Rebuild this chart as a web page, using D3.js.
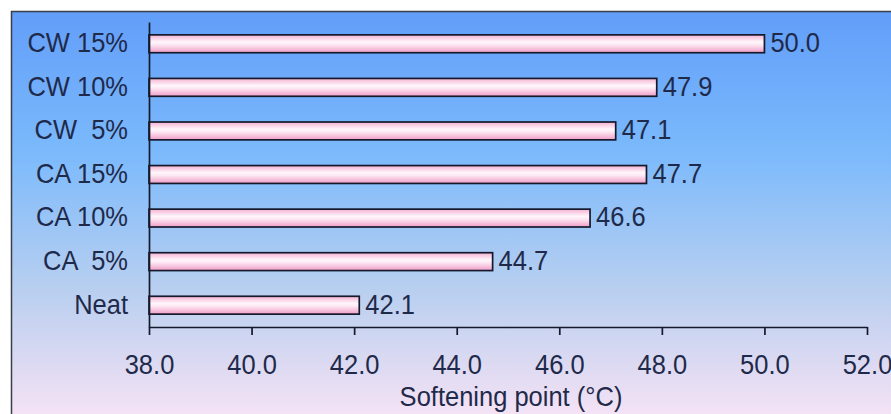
<!DOCTYPE html>
<html>
<head>
<meta charset="utf-8">
<script src="https://cdn.jsdelivr.net/npm/d3@7"></script>
<style>
  html, body { margin: 0; padding: 0; background: #ffffff; }
  svg { display: block; }
  text { font-family: "Liberation Sans", Arial, sans-serif; fill: #1f2a4a; }
</style>
</head>
<body>
<svg id="chart" width="891" height="414"></svg>
<script>
// Softening point of neat binder and modified blends
const categories = ["CW 15%", "CW 10%", "CW  5%", "CA 15%", "CA 10%", "CA  5%", "Neat"];
const values = [50.0, 47.9, 47.1, 47.7, 46.6, 44.7, 42.1];
const tickValues = [38, 40, 42, 44, 46, 48, 50, 52];
const axisTitle = "Softening point (°C)";

const FONT = 25.5;      // label size
const STRETCH = 1.1;    // slightly tall glyphs

const svg = d3.select("#chart");
const defs = svg.append("defs");

// Plot-area backdrop: blue at top fading to pale pink at the bottom
const bg = defs.append("linearGradient").attr("id", "bgGrad")
  .attr("x1", 0).attr("y1", 0).attr("x2", 0).attr("y2", 1);
[[0, "#629ef9"], [0.34, "#7cbafc"], [0.66, "#b8cff0"], [0.83, "#dad9f2"], [1, "#fde6f6"]]
  .forEach(([o, c]) => bg.append("stop").attr("offset", o).attr("stop-color", c));

// Cylinder-like shading for the bars
const barGrad = defs.append("linearGradient").attr("id", "barGrad")
  .attr("x1", 0).attr("y1", 0).attr("x2", 0).attr("y2", 1);
[[0, "#f4b0d2"], [0.4, "#fff6fb"], [0.55, "#fde8f3"], [1, "#f09cc6"]]
  .forEach(([o, c]) => barGrad.append("stop").attr("offset", o).attr("stop-color", c));

// Frame
svg.append("rect")
  .attr("x", 11.5).attr("y", 11.5).attr("width", 900).attr("height", 420)
  .attr("fill", "url(#bgGrad)")
  .attr("stroke", "#3a3f4a").attr("stroke-width", 1.5);

const x = d3.scaleLinear().domain([38, 52]).range([149, 867]);
const y = d3.scaleBand().domain(categories).range([22, 327]).paddingInner(0.59).paddingOuter(0.295);

// Bars
svg.append("g").selectAll("rect")
  .data(categories)
  .join("rect")
  .attr("x", x(38))
  .attr("y", d => y(d))
  .attr("width", (d, i) => x(values[i]) - x(38))
  .attr("height", y.bandwidth())
  .attr("fill", "url(#barGrad)")
  .attr("stroke", "#141a2c")
  .attr("stroke-width", 1.7);

// Value labels
svg.append("g").selectAll("text")
  .data(categories)
  .join("text")
  .attr("transform", (d, i) =>
    `translate(${x(values[i]) + 6},${y(d) + y.bandwidth() / 2 - 1}) scale(1,${STRETCH})`)
  .attr("dominant-baseline", "central")
  .attr("font-size", FONT)
  .text((d, i) => values[i].toFixed(1));

// X axis
const xAxis = svg.append("g")
  .attr("transform", "translate(0,327)")
  .call(d3.axisBottom(x).tickValues(tickValues).tickFormat(d3.format(".1f"))
    .tickSizeInner(8).tickSizeOuter(0));
xAxis.select(".domain").attr("stroke", "#141a2c").attr("stroke-width", 1.7);
xAxis.selectAll(".tick line").attr("stroke", "#141a2c").attr("stroke-width", 1.7);
xAxis.selectAll(".tick text")
  .attr("y", null).attr("dy", null)
  .attr("transform", `translate(0,38) scale(1,${STRETCH})`)
  .attr("dominant-baseline", "central")
  .attr("font-size", FONT).attr("fill", "#1f2a4a")
  .style("font-family", "'Liberation Sans', Arial, sans-serif");

// Y axis
const yAxis = svg.append("g")
  .attr("transform", "translate(149,0)")
  .call(d3.axisLeft(y).tickSize(0));
yAxis.select(".domain").attr("stroke", "#141a2c").attr("stroke-width", 1.7);
yAxis.selectAll(".tick text")
  .attr("x", null).attr("dy", null)
  .attr("transform", `translate(-21,-1) scale(1,${STRETCH})`)
  .attr("dominant-baseline", "central")
  .attr("font-size", FONT).attr("fill", "#1f2a4a")
  .style("white-space", "pre")
  .style("font-family", "'Liberation Sans', Arial, sans-serif");

// Axis title
svg.append("text")
  .attr("transform", `translate(511,397) scale(1,${STRETCH})`)
  .attr("text-anchor", "middle")
  .attr("dominant-baseline", "central")
  .attr("font-size", FONT)
  .text(axisTitle);
</script>
</body>
</html>
